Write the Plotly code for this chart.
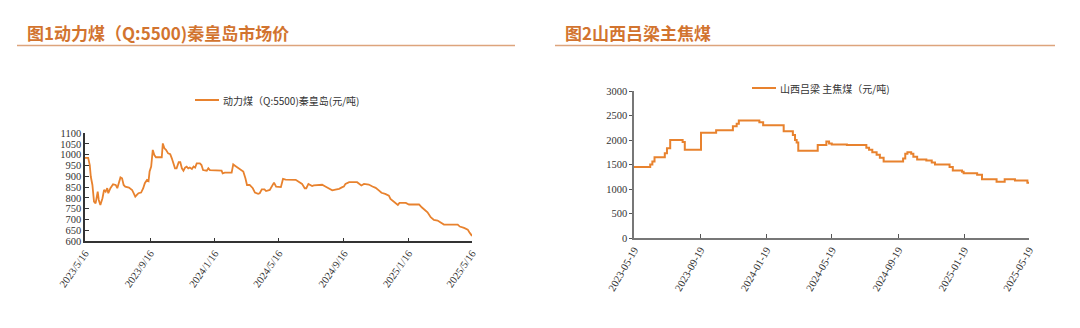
import plotly.graph_objects as go

W, H = 1080, 328

# ---------------- Chart 1 data: 动力煤(Q:5500)秦皇岛 (元/吨) ----------------
coal_dates = [
    "2023-05-16", "2023-05-22", "2023-05-25", "2023-05-27", "2023-05-30", "2023-06-02",
    "2023-06-05", "2023-06-08", "2023-06-09", "2023-06-11", "2023-06-14", "2023-06-18",
    "2023-06-21", "2023-06-24", "2023-06-27", "2023-06-29", "2023-07-03", "2023-07-08",
    "2023-07-13", "2023-07-16", "2023-07-19", "2023-07-22", "2023-07-25", "2023-07-28",
    "2023-07-31", "2023-08-07", "2023-08-13", "2023-08-16", "2023-08-19", "2023-08-22",
    "2023-08-25", "2023-08-30", "2023-09-03", "2023-09-06", "2023-09-10", "2023-09-13",
    "2023-09-15", "2023-09-18", "2023-09-19", "2023-09-21", "2023-09-24", "2023-09-27",
    "2023-10-08", "2023-10-10", "2023-10-13", "2023-10-16", "2023-10-20", "2023-10-24",
    "2023-10-27", "2023-10-30", "2023-11-02", "2023-11-05", "2023-11-09", "2023-11-12",
    "2023-11-15", "2023-11-18", "2023-11-21", "2023-11-24", "2023-11-27", "2023-11-30",
    "2023-12-04", "2023-12-07", "2023-12-10", "2023-12-13", "2023-12-19", "2023-12-22",
    "2023-12-25", "2024-01-01", "2024-01-04", "2024-01-07", "2024-01-13", "2024-01-29",
    "2024-01-31", "2024-02-04", "2024-02-17", "2024-02-20", "2024-02-24", "2024-02-29",
    "2024-03-05", "2024-03-10", "2024-03-14", "2024-03-17", "2024-03-22", "2024-03-25",
    "2024-03-28", "2024-04-01", "2024-04-07", "2024-04-10", "2024-04-14", "2024-04-19",
    "2024-04-22", "2024-04-29", "2024-05-03", "2024-05-07", "2024-05-11", "2024-05-16",
    "2024-05-20", "2024-05-24", "2024-05-29", "2024-06-17", "2024-06-23", "2024-06-29",
    "2024-07-04", "2024-07-07", "2024-07-11", "2024-07-14", "2024-07-18", "2024-07-21",
    "2024-08-06", "2024-08-12", "2024-08-19", "2024-08-25", "2024-08-31", "2024-09-07",
    "2024-09-13", "2024-09-16", "2024-09-19", "2024-09-26", "2024-10-11", "2024-10-16",
    "2024-10-19", "2024-10-24", "2024-11-02", "2024-11-09", "2024-11-15", "2024-11-21",
    "2024-11-26", "2024-12-03", "2024-12-10", "2024-12-13", "2024-12-18", "2024-12-23",
    "2024-12-27", "2024-12-30", "2025-01-11", "2025-01-17", "2025-02-05", "2025-02-10",
    "2025-02-14", "2025-02-21", "2025-02-27", "2025-03-05", "2025-03-12", "2025-03-18",
    "2025-03-24", "2025-04-19", "2025-04-23", "2025-05-01", "2025-05-08", "2025-05-11",
    "2025-05-16",
]
coal_values = [
    985, 985, 952, 898, 860, 783,
    775, 815, 829, 791, 768, 799,
    837, 829, 845, 822, 845, 863,
    860, 845, 875, 895, 891, 860,
    852, 848, 837, 822, 806, 814,
    822, 825, 845, 868, 883, 878,
    922, 945, 975, 1022, 998, 988,
    988, 1052, 1029, 1022, 1006, 1002,
    983, 960, 937, 937, 965, 965,
    937, 926, 940, 945, 937, 941,
    934, 945, 940, 960, 960, 952,
    929, 926, 937, 929, 929, 926,
    914, 917, 917, 955, 948, 940,
    929, 922, 891, 860, 860, 852,
    845, 825, 819, 822, 840, 840,
    832, 837, 852, 871, 852, 850,
    850, 888, 885, 884, 876, 865,
    845, 845, 865, 862, 855, 858,
    861, 853, 842, 835, 839, 842,
    850, 853, 865, 873, 873, 865,
    858, 865, 862, 853, 847, 835,
    824, 819, 811, 796, 785, 773,
    768, 777, 777, 770, 770, 757,
    750, 734, 711, 699, 696, 688,
    677, 677, 668, 662, 654, 642,
    625,
]
coal_tickvals = ["2023-05-16", "2023-09-16", "2024-01-16", "2024-05-16",
                 "2024-09-16", "2025-01-16", "2025-05-16"]
coal_ticktext = ["2023/5/16", "2023/9/16", "2024/1/16", "2024/5/16",
                 "2024/9/16", "2025/1/16", "2025/5/16"]

# ---------------- Chart 2 data: 山西吕梁 主焦煤 (元/吨) ----------------
coke_dates = [
    "2023-05-19", "2023-06-18", "2023-06-22", "2023-06-26", "2023-07-15", "2023-07-19",
    "2023-07-25", "2023-08-17", "2023-08-21", "2023-09-20", "2023-10-18", "2023-11-18",
    "2023-11-25", "2023-11-29", "2024-01-06", "2024-01-13", "2024-02-20", "2024-03-08",
    "2024-03-12", "2024-03-15", "2024-03-18", "2024-04-23", "2024-05-09", "2024-05-14",
    "2024-05-19", "2024-06-16", "2024-07-22", "2024-07-27", "2024-08-02", "2024-08-10",
    "2024-08-16", "2024-08-23", "2024-09-28", "2024-10-02", "2024-10-06", "2024-10-13",
    "2024-10-17", "2024-10-24", "2024-11-10", "2024-11-20", "2024-11-26", "2024-12-23",
    "2024-12-29", "2025-01-15", "2025-01-18", "2025-02-12", "2025-02-21", "2025-03-20",
    "2025-04-04", "2025-04-23", "2025-05-16", "2025-05-19",
]
coke_values = [
    1450, 1500, 1560, 1650, 1730, 1830,
    2000, 1960, 1800, 2150, 2200, 2280,
    2330, 2400, 2360, 2300, 2180, 2100,
    2000, 1950, 1780, 1900, 1970, 1930,
    1910, 1900, 1840, 1800, 1750, 1700,
    1640, 1560, 1620, 1720, 1750, 1720,
    1660, 1600, 1580, 1540, 1500, 1450,
    1380, 1350, 1320, 1290, 1200, 1150,
    1200, 1175, 1130, 1130,
]
coke_tickvals = ["2023-05-19", "2023-09-19", "2024-01-19", "2024-05-19",
                 "2024-09-19", "2025-01-19", "2025-05-19"]
coke_ticktext = coke_tickvals

titles = ["图1动力煤（Q:5500)秦皇岛市场价", "图2山西吕梁主焦煤"]
legend_names = ["动力煤（Q:5500)秦皇岛(元/吨)", "山西吕梁 主焦煤（元/吨)"]

LINE = "#E8822E"
TITLE_C = "#D2742F"
RULE_C = "#DDA47C"
SERIF = "Liberation Serif"
CJK = "Noto Sans CJK SC"


def px(x):
    return x / W


def py(y):
    return 1 - y / H


fig = go.Figure()
fig.add_trace(go.Scatter(x=coal_dates, y=coal_values, mode="lines",
                         line=dict(color=LINE, width=1.8), xaxis="x", yaxis="y",
                         showlegend=False))
fig.add_trace(go.Scatter(x=coke_dates, y=coke_values, mode="lines",
                         line=dict(color=LINE, width=2, shape="hv"), xaxis="x2", yaxis="y2",
                         showlegend=False))

tickfont = dict(family=SERIF, size=10.5, color="#333333")

fig.update_layout(
    width=W, height=H, autosize=False,
    margin=dict(l=0, r=0, t=0, b=0, autoexpand=False),
    paper_bgcolor="white", plot_bgcolor="white",
    xaxis=dict(domain=[px(85), px(472)], type="date", automargin=False,
               range=["2023-05-16", "2025-05-16"],
               tickvals=coal_tickvals, ticktext=coal_ticktext, tickangle=-55,
               tickfont=tickfont, showgrid=False, zeroline=False,
               showline=True, linecolor="#333333", linewidth=1.5,
               ticks="inside", ticklen=4, tickcolor="#333333", anchor="y"),
    yaxis=dict(domain=[py(241.3), py(133)], range=[600, 1100], automargin=False,
               tickvals=list(range(600, 1101, 50)),
               tickfont=tickfont, showgrid=False, zeroline=False,
               showline=True, linecolor="#333333", linewidth=1.5,
               ticks="inside", ticklen=4, tickcolor="#333333", anchor="x"),
    xaxis2=dict(domain=[px(634), px(1029)], type="date", automargin=False,
                range=["2023-05-19", "2025-05-19"],
                tickvals=coke_tickvals, ticktext=coke_ticktext, tickangle=-60,
                tickfont=tickfont, showgrid=False, zeroline=False,
                showline=True, linecolor="#777777", linewidth=1.5,
                ticks="inside", ticklen=4, tickcolor="#555555", anchor="y2"),
    yaxis2=dict(domain=[py(238), py(91)], range=[0, 3000], automargin=False,
                tickvals=list(range(0, 3001, 500)),
                tickfont=tickfont, showgrid=False, zeroline=False,
                showline=True, linecolor="#777777", linewidth=1.5,
                ticks="outside", ticklen=3, tickcolor="#555555", anchor="x2"),
)

annotations = [
    dict(text="<b>" + titles[0] + "</b>", x=px(25), y=py(33), xref="paper", yref="paper",
         xanchor="left", yanchor="middle", showarrow=False,
         font=dict(family=CJK, size=17, color=TITLE_C)),
    dict(text="<b>" + titles[1] + "</b>", x=px(563), y=py(33), xref="paper", yref="paper",
         xanchor="left", yanchor="middle", showarrow=False,
         font=dict(family=CJK, size=17, color=TITLE_C)),
    dict(text=legend_names[0], x=px(221), y=py(100), xref="paper", yref="paper",
         xanchor="left", yanchor="middle", showarrow=False,
         font=dict(family=CJK, size=10, color="#333333")),
    dict(text=legend_names[1], x=px(778), y=py(88), xref="paper", yref="paper",
         xanchor="left", yanchor="middle", showarrow=False,
         font=dict(family=CJK, size=10, color="#333333")),
]
shapes = [
    dict(type="line", xref="paper", yref="paper", x0=px(17), x1=px(515),
         y0=py(45.5), y1=py(45.5), line=dict(color=RULE_C, width=1.5)),
    dict(type="line", xref="paper", yref="paper", x0=px(555), x1=px(1055),
         y0=py(45.5), y1=py(45.5), line=dict(color=RULE_C, width=1.5)),
    dict(type="line", xref="paper", yref="paper", x0=px(195), x1=px(219),
         y0=py(100), y1=py(100), line=dict(color=LINE, width=2)),
    dict(type="line", xref="paper", yref="paper", x0=px(752), x1=px(776),
         y0=py(88), y1=py(88), line=dict(color=LINE, width=2)),
]
fig.update_layout(annotations=annotations, shapes=shapes)

fig.write_html("out.html")
